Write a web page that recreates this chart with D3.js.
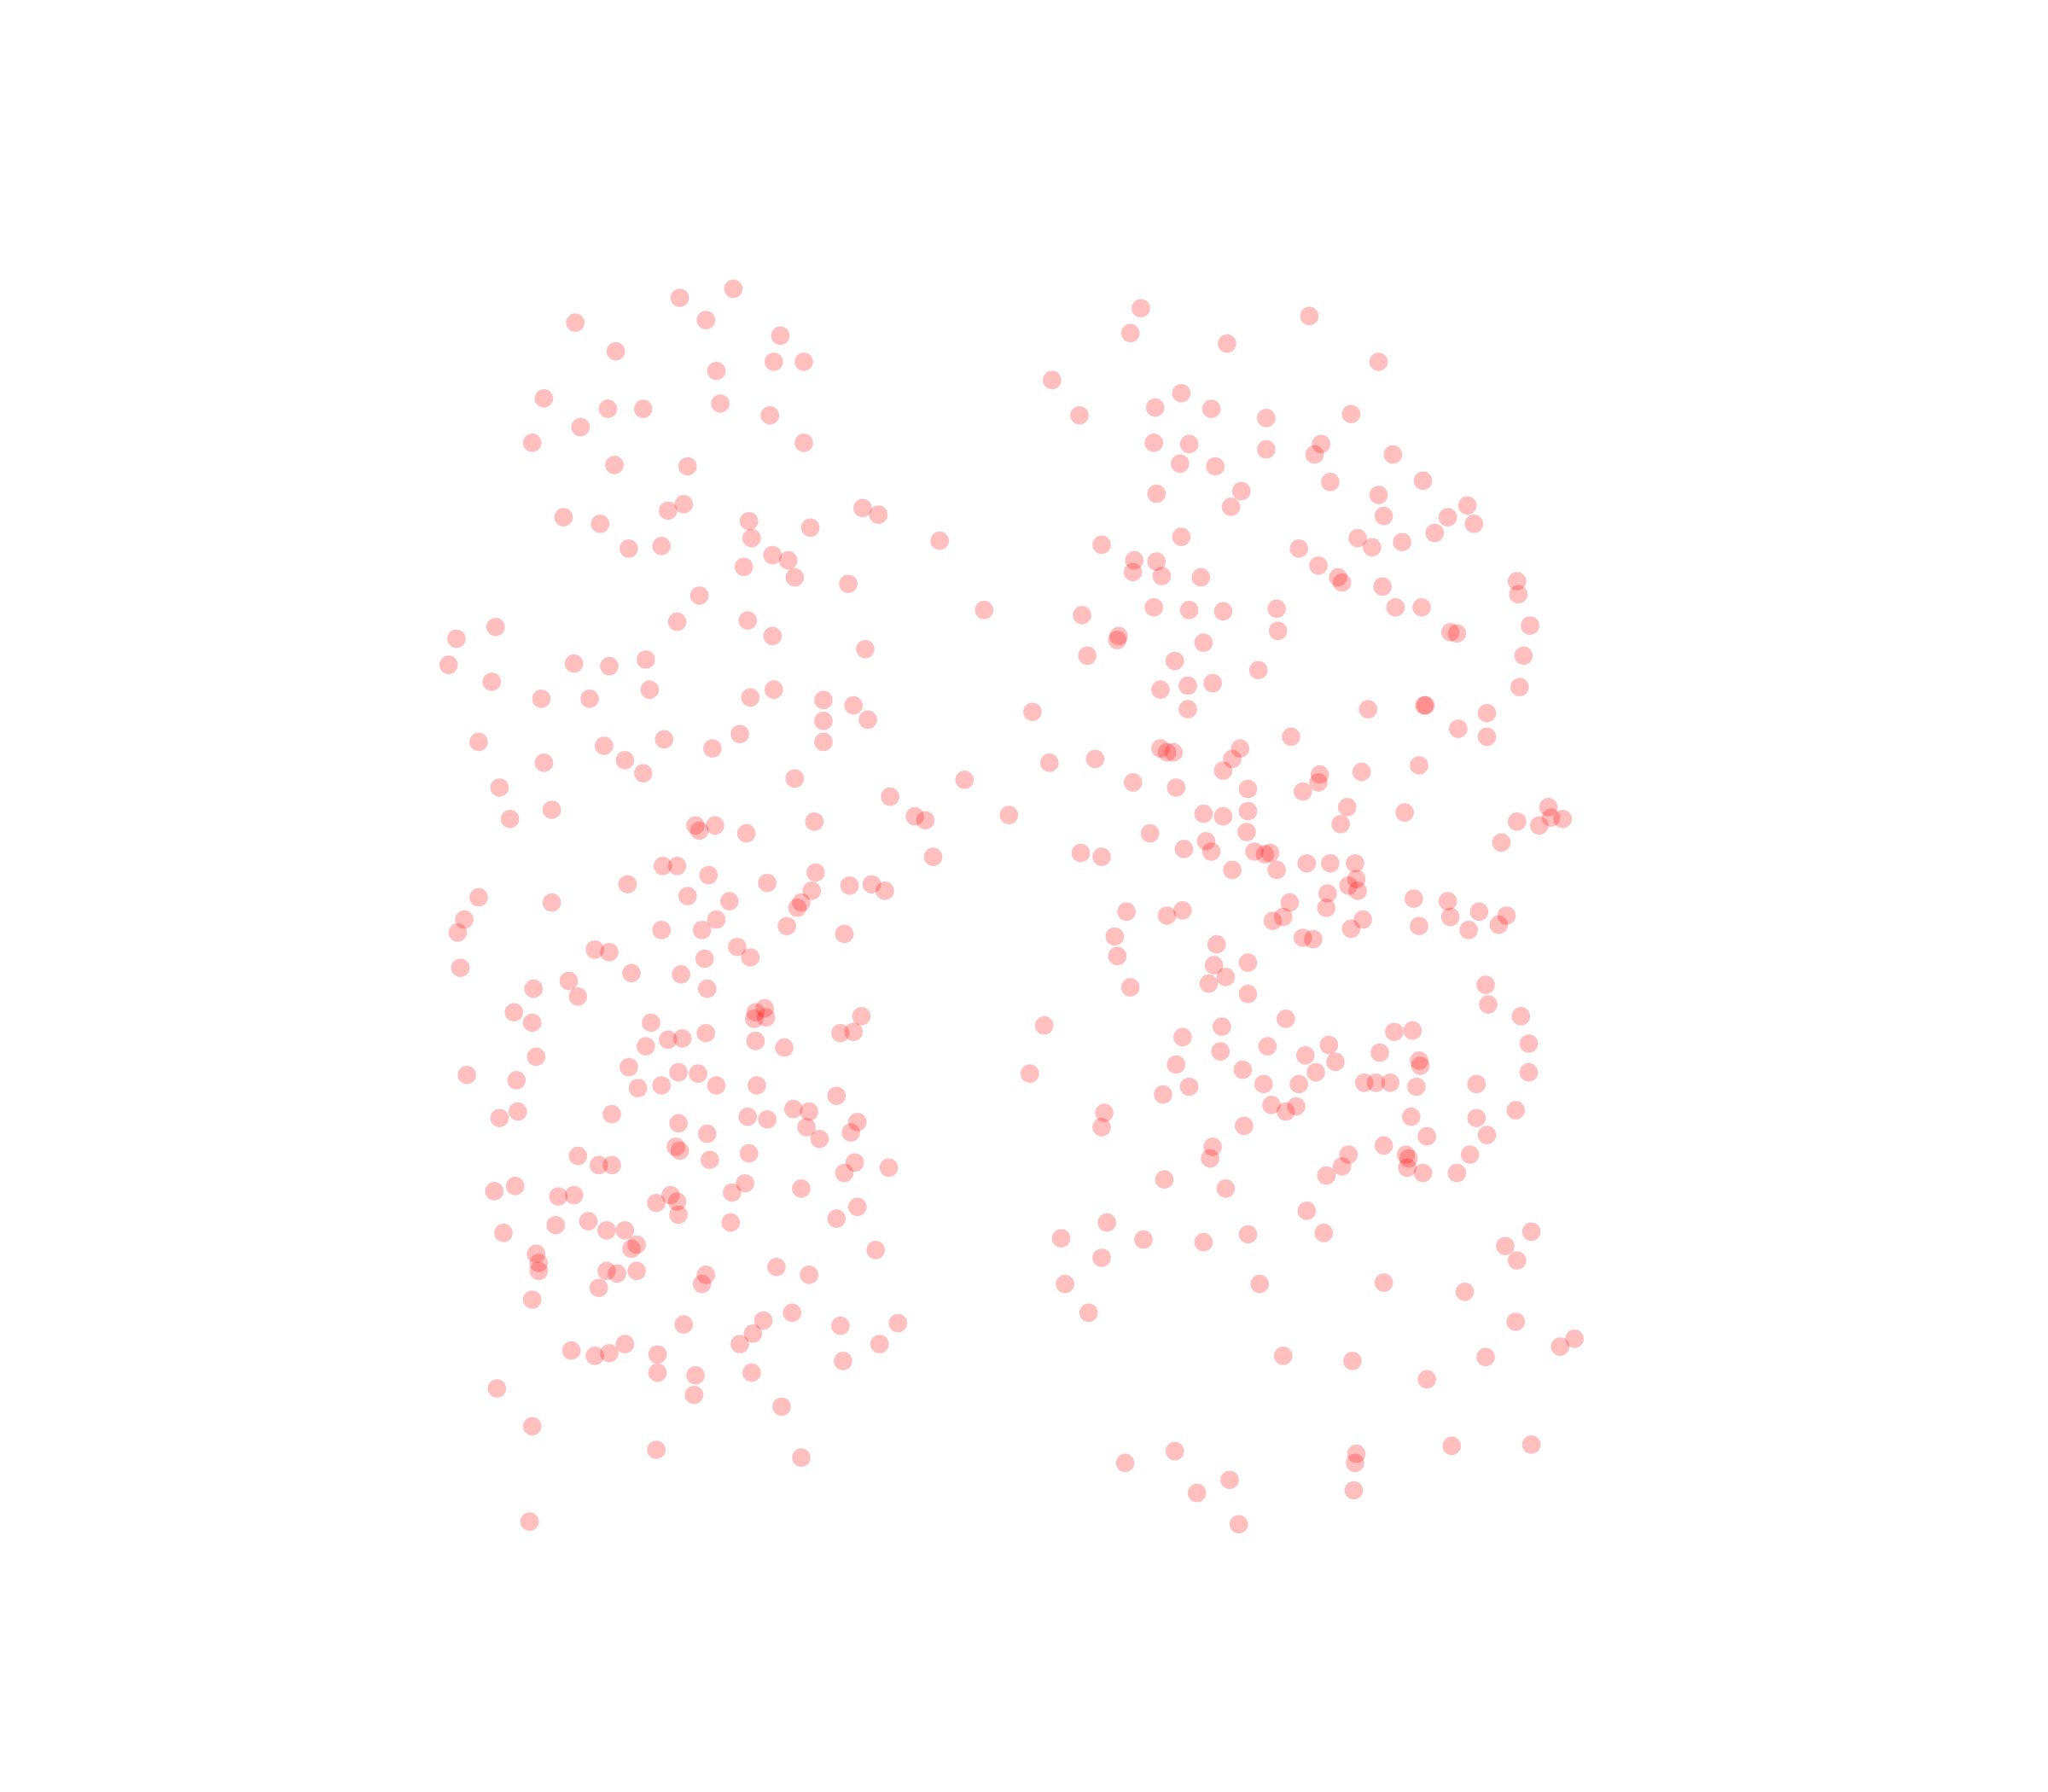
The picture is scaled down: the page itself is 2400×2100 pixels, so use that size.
<!DOCTYPE html>
<html><head><meta charset="utf-8">
<script src="https://d3js.org/d3.v7.min.js"></script>
<style>html,body{margin:0;padding:0;background:#fff}svg{display:block}</style>
</head><body><svg id="c" width="2400" height="2100"></svg>
<script>
const leftGroup=[[561,221],[520,228],[440,247],[540,245],[597,257],[471,269],[592,277],[615,277],[548,284],[416,305],[551,309],[465,313],[492,313],[589,318],[444,327],[407,339],[615,339],[470,356],[526,357],[431,396],[459,401],[511,391],[523,386],[573,399],[575,412],[620,404],[660,389],[672,394],[719,414],[481,420],[506,418],[591,425],[603,429],[569,434],[608,442],[649,447],[535,456],[753,467],[518,476],[572,475],[591,487],[662,497],[349,489],[379,480],[343,509],[376,522],[439,508],[466,510],[494,505],[497,528],[414,535],[451,535],[574,534],[592,528],[630,536],[653,540],[630,552],[664,551],[566,562],[508,566],[630,568],[545,573],[462,571],[366,568],[416,584],[478,582],[492,592],[608,596],[382,603],[422,620],[390,627],[681,610],[738,597],[700,625],[708,628],[772,624],[623,629],[532,632],[535,636],[547,632],[571,638],[714,656],[507,663],[518,663],[542,670],[624,668],[480,677],[587,676],[650,678],[667,677],[677,682],[621,682],[526,686],[558,690],[613,691],[610,695],[366,687],[422,691],[355,704],[350,714],[548,704],[537,712],[506,712],[602,709],[646,715],[564,725],[455,727],[466,729],[539,734],[574,733],[352,741],[483,745],[521,746],[435,751],[408,757],[442,763],[541,757],[393,775],[407,783],[498,783],[585,772],[578,775],[577,780],[586,779],[659,778],[643,791],[653,790],[540,791],[511,796],[522,795],[494,801],[578,797],[600,802],[410,809],[481,817],[357,823],[519,821],[534,822],[395,827],[506,831],[488,833],[548,831],[579,831],[640,839],[607,849],[619,851],[396,851],[382,856],[468,853],[572,855],[587,857],[656,859],[519,860],[617,863],[651,867],[541,868],[627,872],[517,878],[520,881],[573,883],[442,885],[458,892],[468,892],[543,888],[654,890],[680,894],[646,898],[570,906],[613,910],[378,912],[394,908],[427,916],[439,915],[513,915],[518,920],[502,921],[560,913],[656,924],[519,930],[640,933],[450,935],[425,938],[559,936],[385,944],[464,942],[478,942],[487,953],[483,956],[670,957],[410,960],[412,967],[412,973],[594,970],[464,973],[472,975],[487,973],[540,976],[537,983],[619,976],[458,986],[407,995],[606,1005],[584,1011],[523,1014],[643,1015],[687,1013],[576,1021],[566,1029],[478,1029],[673,1029],[437,1034],[455,1038],[466,1036],[503,1037],[645,1042],[503,1051],[532,1053],[575,1051],[380,1063],[531,1068],[598,1077],[407,1092],[502,1110],[613,1116],[405,1165]];
const rightGroup=[[873,236],[865,255],[1002,242],[939,263],[1055,277],[805,291],[904,301],[884,312],[927,313],[826,318],[969,320],[1034,317],[883,339],[910,340],[969,344],[1011,340],[1006,348],[1066,348],[903,355],[930,357],[1018,369],[1089,368],[885,378],[950,376],[942,388],[1055,379],[1059,395],[1123,387],[1108,396],[1128,401],[1098,408],[904,411],[843,417],[1039,412],[1050,419],[1073,415],[994,420],[868,429],[885,430],[867,438],[889,441],[919,442],[1009,433],[1024,442],[1027,446],[1058,449],[1161,445],[1162,455],[883,465],[910,467],[936,468],[977,466],[828,471],[1068,465],[1088,465],[978,483],[856,487],[855,490],[921,492],[1110,484],[1115,485],[1171,479],[832,502],[899,506],[1166,502],[963,513],[888,528],[909,525],[928,523],[1163,526],[909,543],[1047,543],[1091,540],[1090,540],[790,545],[1138,546],[1116,558],[1138,564],[988,564],[888,573],[893,576],[898,576],[949,573],[943,581],[803,584],[838,581],[936,590],[1086,586],[1042,591],[1010,593],[1009,599],[867,599],[900,603],[955,604],[997,606],[1031,618],[1075,622],[921,623],[936,625],[955,621],[1185,618],[1187,626],[1196,627],[1178,632],[1161,629],[1026,631],[880,638],[954,637],[923,644],[1149,645],[906,650],[927,652],[960,652],[968,654],[972,653],[827,653],[843,656],[1000,661],[1018,661],[1037,661],[943,666],[977,666],[1038,673],[1032,678],[1039,682],[1016,684],[1082,688],[1108,690],[987,691],[1015,695],[905,697],[862,698],[893,701],[1132,698],[1153,701],[982,702],[974,705],[1043,704],[1110,702],[1086,709],[1034,711],[1124,712],[1147,708],[853,717],[997,718],[1005,719],[931,723],[855,732],[929,739],[955,737],[938,748],[925,753],[865,756],[955,761],[1137,754],[1139,769],[984,780],[1164,778],[799,785],[935,786],[1067,790],[1081,789],[905,794],[1017,800],[970,801],[934,805],[999,808],[1056,806],[1170,799],[1086,812],[1087,816],[900,815],[1022,813],[951,819],[1007,821],[1170,821],[788,822],[967,830],[994,830],[1044,829],[1053,829],[1064,829],[1084,832],[1130,830],[910,832],[890,838],[973,846],[992,847],[984,851],[845,852],[1160,850],[1080,855],[1130,856],[843,863],[952,862],[1092,870],[1138,869],[928,878],[1059,877],[1076,884],[1078,887],[926,887],[1032,884],[1125,884],[1027,893],[1077,894],[1089,898],[1015,900],[1115,898],[891,903],[938,910],[1000,927],[847,936],[1013,944],[955,945],[812,948],[875,949],[921,951],[1172,943],[1152,954],[843,963],[1161,965],[815,983],[964,983],[1059,982],[1121,989],[833,1005],[1160,1012],[1205,1025],[1194,1031],[982,1038],[1137,1039],[1035,1042],[1092,1056],[1111,1107],[1172,1106],[899,1111],[1038,1113],[1037,1120],[861,1120],[941,1133],[1036,1141],[916,1143],[948,1167]];
const xScale=d3.scaleLinear().domain([0,1568]).range([0.7,2400.7]);
const yScale=d3.scaleLinear().domain([0,1372]).range([0,2100]);
d3.select("#c").selectAll("circle").data(leftGroup.concat(rightGroup)).join("circle")
 .attr("cx",d=>xScale(d[0])).attr("cy",d=>yScale(d[1])).attr("r",10.8)
 .attr("fill","#ff0000").attr("fill-opacity",0.25);
</script></body></html>
